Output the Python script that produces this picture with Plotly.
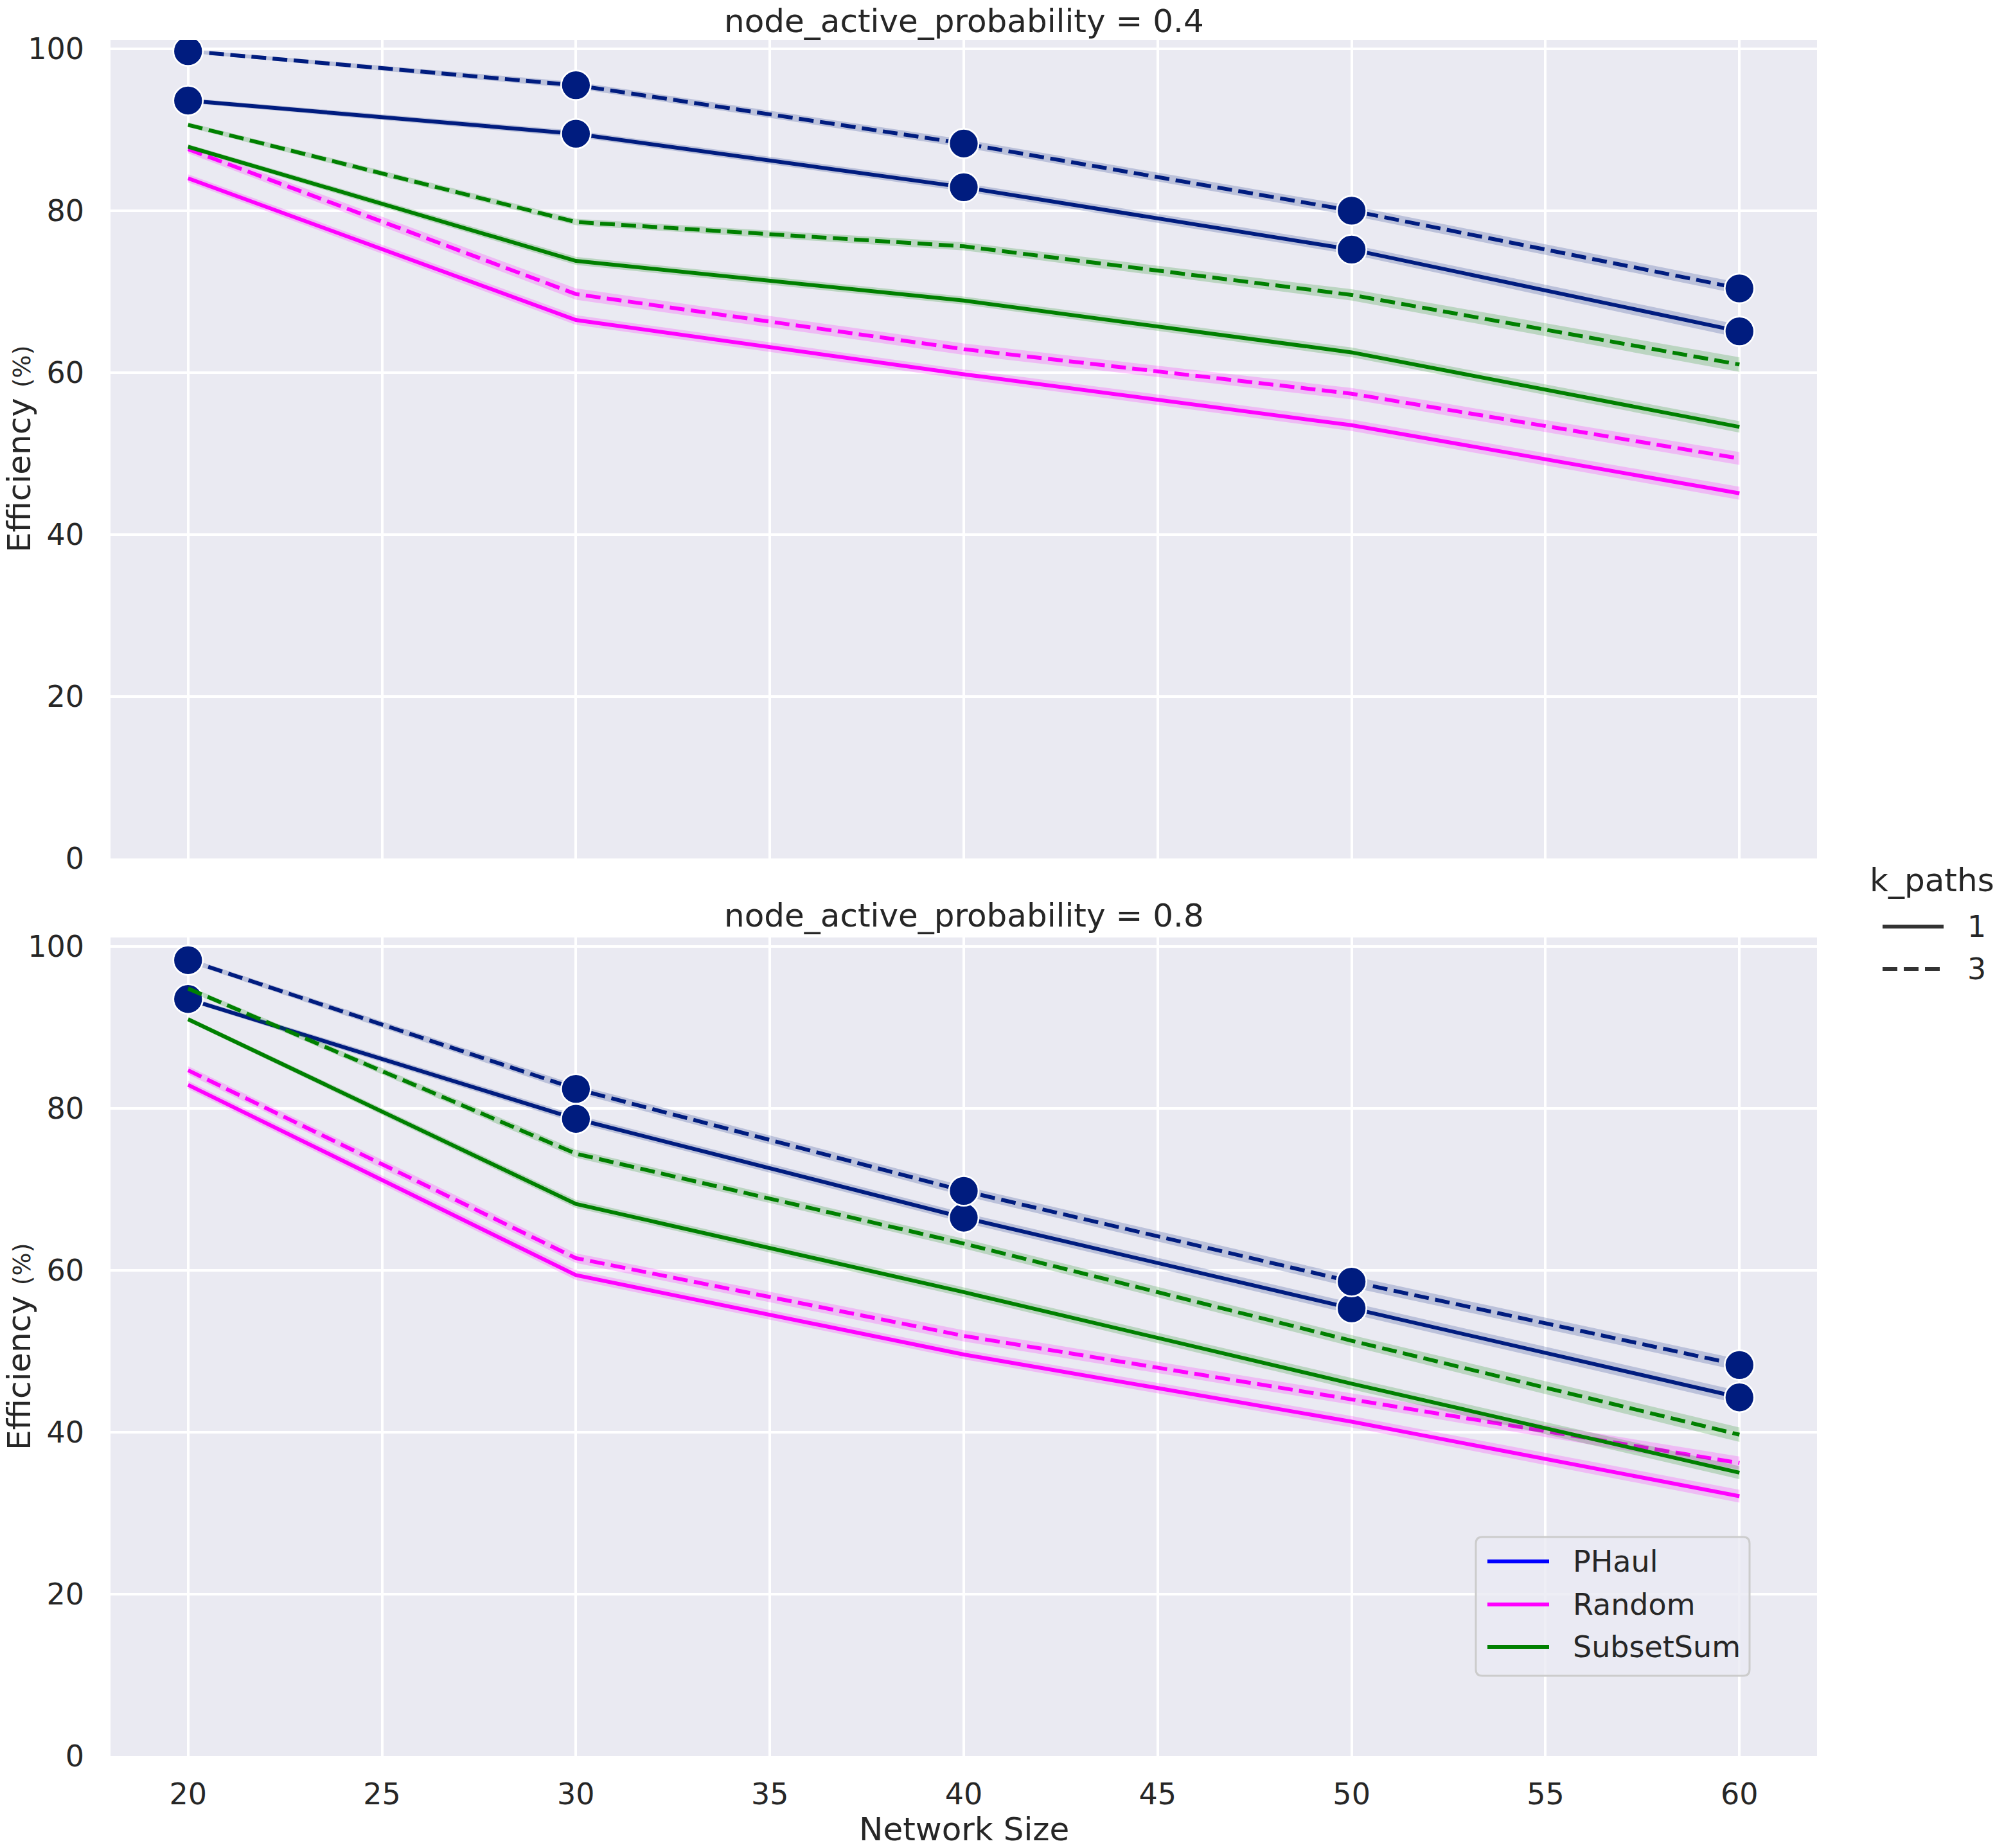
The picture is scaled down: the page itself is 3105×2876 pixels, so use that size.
import plotly.graph_objects as go

# ---------------- data ----------------
network_size = [20, 30, 40, 50, 60]
x_ticks = [20, 25, 30, 35, 40, 45, 50, 55, 60]
y_ticks = [0, 20, 40, 60, 80, 100]

methods = ["PHaul", "Random", "SubsetSum"]
k_paths = [1, 3]
panel_titles = ["node_active_probability = 0.4", "node_active_probability = 0.8"]

# node_active_probability = 0.4
p04_phaul_k1 = [93.6, 89.5, 82.9, 75.2, 65.1]
p04_phaul_k3 = [99.7, 95.5, 88.3, 80.0, 70.4]
p04_random_k1 = [84.0, 66.5, 59.8, 53.5, 45.1]
p04_random_k3 = [87.6, 69.7, 62.9, 57.4, 49.4]
p04_subset_k1 = [87.9, 73.8, 68.9, 62.5, 53.3]
p04_subset_k3 = [90.6, 78.6, 75.6, 69.6, 61.0]

# node_active_probability = 0.8
p08_phaul_k1 = [93.5, 78.7, 66.5, 55.3, 44.3]
p08_phaul_k3 = [98.3, 82.4, 69.8, 58.6, 48.3]
p08_random_k1 = [82.9, 59.4, 49.6, 41.3, 32.1]
p08_random_k3 = [84.7, 61.5, 51.9, 44.1, 36.2]
p08_subset_k1 = [91.0, 68.2, 57.3, 46.0, 35.0]
p08_subset_k3 = [94.8, 74.4, 63.3, 51.3, 39.7]

# confidence-band half widths (estimated)
ci04_phaul_k1 = [0.3, 0.4, 0.5, 0.6, 0.8]
ci04_phaul_k3 = [0.2, 0.4, 0.5, 0.6, 0.7]
ci04_random_k1 = [0.5, 0.6, 0.6, 0.7, 0.8]
ci04_random_k3 = [0.5, 0.7, 0.7, 0.7, 0.8]
ci04_subset_k1 = [0.3, 0.5, 0.5, 0.6, 0.7]
ci04_subset_k3 = [0.3, 0.4, 0.5, 0.7, 0.9]

ci08_phaul_k1 = [0.3, 0.5, 0.6, 0.7, 0.8]
ci08_phaul_k3 = [0.3, 0.5, 0.6, 0.7, 0.7]
ci08_random_k1 = [0.5, 0.6, 0.6, 0.7, 0.8]
ci08_random_k3 = [0.5, 0.6, 0.7, 0.7, 0.8]
ci08_subset_k1 = [0.3, 0.5, 0.6, 0.7, 0.8]
ci08_subset_k3 = [0.3, 0.5, 0.6, 0.7, 0.9]

panels = [
    {
        ("PHaul", 1): (p04_phaul_k1, ci04_phaul_k1),
        ("PHaul", 3): (p04_phaul_k3, ci04_phaul_k3),
        ("Random", 1): (p04_random_k1, ci04_random_k1),
        ("Random", 3): (p04_random_k3, ci04_random_k3),
        ("SubsetSum", 1): (p04_subset_k1, ci04_subset_k1),
        ("SubsetSum", 3): (p04_subset_k3, ci04_subset_k3),
    },
    {
        ("PHaul", 1): (p08_phaul_k1, ci08_phaul_k1),
        ("PHaul", 3): (p08_phaul_k3, ci08_phaul_k3),
        ("Random", 1): (p08_random_k1, ci08_random_k1),
        ("Random", 3): (p08_random_k3, ci08_random_k3),
        ("SubsetSum", 1): (p08_subset_k1, ci08_subset_k1),
        ("SubsetSum", 3): (p08_subset_k3, ci08_subset_k3),
    },
]

# ---------------- styles ----------------
W, H = 3105, 2876
FONT = "DejaVu Sans"
TXT = "#262626"
BG = "#EAEAF2"
line_colors = {"PHaul": "#001C7F", "Random": "#FF00FF", "SubsetSum": "#008000"}
band_colors = {"PHaul": "rgba(0,28,127,0.2)", "Random": "rgba(255,0,255,0.2)",
               "SubsetSum": "rgba(0,128,0,0.2)"}
legend_colors = {"PHaul": "#0000FF", "Random": "#FF00FF", "SubsetSum": "#008000"}
dash_styles = {1: "solid", 3: "23px,10px"}
LW = 6


def fx(px):
    return px / W


def fy(py):
    return 1 - py / H


x_dom = [fx(172), fx(2828)]
y_doms = [[fy(1336), fy(62)], [fy(2733), fy(1459)]]
y_range = [0, 101.1]

fig = go.Figure()

for i, data in enumerate(panels):
    xa = "x" if i == 0 else "x2"
    ya = "y" if i == 0 else "y2"
    for m in methods:
        for k in k_paths:
            vals, ci = data[(m, k)]
            upper = [v + c for v, c in zip(vals, ci)]
            lower = [v - c for v, c in zip(vals, ci)]
            fig.add_trace(go.Scatter(
                x=network_size + network_size[::-1], y=upper + lower[::-1],
                fill="toself", fillcolor=band_colors[m], line=dict(width=0),
                mode="lines", hoverinfo="skip", showlegend=False, xaxis=xa, yaxis=ya))
            is_ph = m == "PHaul"
            fig.add_trace(go.Scatter(
                x=network_size, y=vals, name=f"{m}, k={k}",
                mode="lines+markers" if is_ph else "lines",
                line=dict(color=line_colors[m], width=LW, dash=dash_styles[k]),
                marker=dict(size=46, color=line_colors[m],
                            line=dict(color="white", width=2.7)) if is_ph else None,
                showlegend=False, xaxis=xa, yaxis=ya))

axis_common = dict(
    showgrid=True, gridcolor="white", gridwidth=4, zeroline=False, showline=False,
    ticks="", automargin=False, tickfont=dict(family=FONT, size=46, color=TXT),
)
fig.update_layout(
    template="none",
    width=W, height=H, autosize=False,
    margin=dict(l=0, r=0, t=0, b=0, pad=0, autoexpand=False),
    paper_bgcolor="white", plot_bgcolor=BG,
    showlegend=False,
    font=dict(family=FONT, color=TXT),
    xaxis=dict(domain=x_dom, anchor="y", range=[18, 62], tickvals=x_ticks,
               showticklabels=False, **axis_common),
    xaxis2=dict(domain=x_dom, anchor="y2", range=[18, 62], tickvals=x_ticks,
                ticklabelstandoff=28, **axis_common),
    yaxis=dict(domain=y_doms[0], anchor="x", range=y_range, tickvals=y_ticks,
               ticklabelstandoff=40, **axis_common),
    yaxis2=dict(domain=y_doms[1], anchor="x2", range=y_range, tickvals=y_ticks,
                ticklabelstandoff=40, **axis_common),
)

annotations = []
shapes = []
# panel titles
for title, py in zip(panel_titles, [33, 1425]):
    annotations.append(dict(text=title, x=fx(1500), y=fy(py), xref="paper", yref="paper",
                            xanchor="center", yanchor="middle", showarrow=False,
                            font=dict(family=FONT, size=50, color=TXT)))
# y-axis titles
for py in [699, 2096]:
    annotations.append(dict(text="Efficiency <span style='font-size:38px'>(%)</span>",
                            x=fx(30), y=fy(py), xref="paper", yref="paper",
                            xanchor="center", yanchor="middle", textangle=-90,
                            showarrow=False, font=dict(family=FONT, size=50, color=TXT)))
# x-axis title
annotations.append(dict(text="Network Size", x=fx(1500), y=fy(2847), xref="paper",
                        yref="paper", xanchor="center", yanchor="middle", showarrow=False,
                        font=dict(family=FONT, size=50, color=TXT)))

# k_paths legend (figure level)
annotations.append(dict(text="k_paths", x=fx(2908), y=fy(1370), xref="paper", yref="paper",
                        xanchor="left", yanchor="middle", showarrow=False,
                        font=dict(family=FONT, size=50, color=TXT)))
for k, py in zip(k_paths, [1442, 1508]):
    shapes.append(dict(type="line", xref="paper", yref="paper", x0=fx(2930), x1=fx(3025),
                       y0=fy(py), y1=fy(py),
                       line=dict(color="#333333", width=LW, dash=dash_styles[k])))
    annotations.append(dict(text=str(k), x=fx(3060), y=fy(py), xref="paper", yref="paper",
                            xanchor="left", yanchor="middle", showarrow=False,
                            font=dict(family=FONT, size=46, color=TXT)))

# method legend (inside bottom panel)
bx0, bx1, by0, by1, r = 2297, 2723, 2392, 2608, 10
pts = [
    f"M{fx(bx0 + r)},{fy(by0)}", f"L{fx(bx1 - r)},{fy(by0)}",
    f"Q{fx(bx1)},{fy(by0)} {fx(bx1)},{fy(by0 + r)}", f"L{fx(bx1)},{fy(by1 - r)}",
    f"Q{fx(bx1)},{fy(by1)} {fx(bx1 - r)},{fy(by1)}", f"L{fx(bx0 + r)},{fy(by1)}",
    f"Q{fx(bx0)},{fy(by1)} {fx(bx0)},{fy(by1 - r)}", f"L{fx(bx0)},{fy(by0 + r)}",
    f"Q{fx(bx0)},{fy(by0)} {fx(bx0 + r)},{fy(by0)}", "Z",
]
shapes.append(dict(type="path", xref="paper", yref="paper", path=" ".join(pts),
                   fillcolor="rgba(234,234,242,0.8)", line=dict(color="#CCCCCC", width=3)))
for m, py in zip(methods, [2430, 2497, 2563]):
    shapes.append(dict(type="line", xref="paper", yref="paper", x0=fx(2315), x1=fx(2411),
                       y0=fy(py), y1=fy(py), line=dict(color=legend_colors[m], width=LW)))
    annotations.append(dict(text=m, x=fx(2446), y=fy(py), xref="paper", yref="paper",
                            xanchor="left", yanchor="middle", showarrow=False,
                            font=dict(family=FONT, size=46, color=TXT)))

fig.update_layout(annotations=annotations, shapes=shapes)
fig.write_html("out.html")
